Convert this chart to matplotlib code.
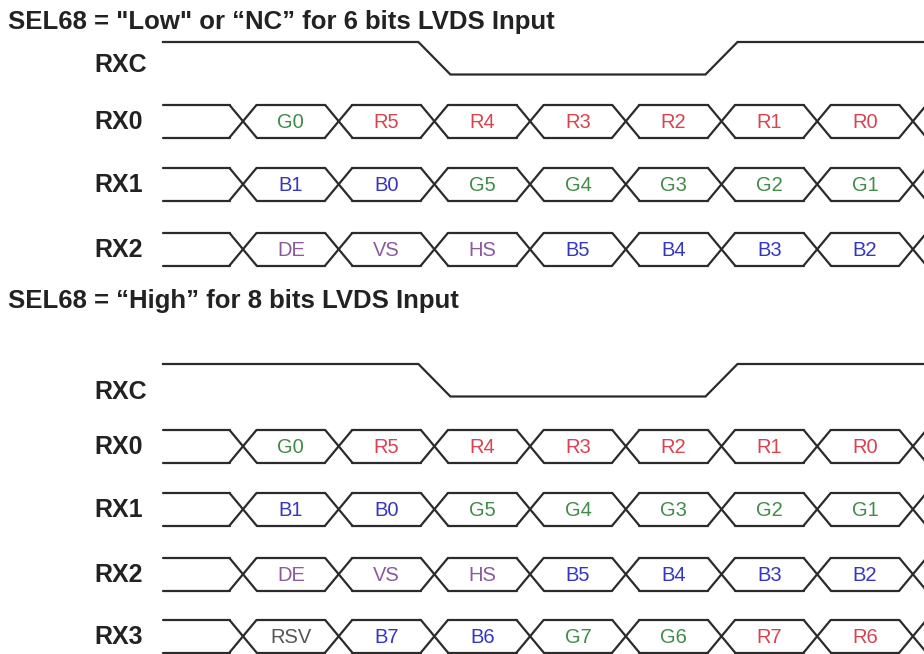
import matplotlib
matplotlib.use("Agg")
import matplotlib.pyplot as plt
from matplotlib.collections import LineCollection

# ---- data -------------------------------------------------------------
titles = ['SEL68 = "Low" or \u201cNC\u201d for 6 bits LVDS Input',
          'SEL68 = \u201cHigh\u201d for 8 bits LVDS Input']

# clock level per segment: idle, 7 bit slots, after last edge
clock_levels = [1, 1, 1, 0, 0, 0, 1, 1, 1]

rx0_bits = ["G0", "R5", "R4", "R3", "R2", "R1", "R0"]
rx1_bits = ["B1", "B0", "G5", "G4", "G3", "G2", "G1"]
rx2_bits = ["DE", "VS", "HS", "B5", "B4", "B3", "B2"]
rx3_bits = ["RSV", "B7", "B6", "G7", "G6", "R7", "R6"]

section_6bit = [("RX0", rx0_bits), ("RX1", rx1_bits), ("RX2", rx2_bits)]
section_8bit = [("RX0", rx0_bits), ("RX1", rx1_bits), ("RX2", rx2_bits),
                ("RX3", rx3_bits)]

bit_colors = {"R": "#d8434f", "G": "#3f8c48", "B": "#3535c4",
              "DE": "#8c5a9c", "VS": "#8c5a9c", "HS": "#8c5a9c",
              "RSV": "#555555"}

# ---- layout (pixel space) --------------------------------------------
W, H = 924, 654
X_START = 163
CROSS0 = 243.0
PERIOD = 95.7
N_CROSS = 8
HW = 13.5        # half width of a data crossing
CHW = 16.0       # half width of a clock edge
ROW_H = 32.5
X_END = W + 40
LINE_C = "#2b2b2b"
LW = 1.6

crosses = [CROSS0 + PERIOD * k for k in range(N_CROSS)]

fig = plt.figure(figsize=(W / 100, H / 100), dpi=100)
ax = fig.add_axes([0, 0, 1, 1])
ax.set_xlim(0, W)
ax.set_ylim(H, 0)
ax.axis("off")


def bit_color(name):
    if name in bit_colors:
        return bit_colors[name]
    return bit_colors[name[0]]


def draw_label(name, y):
    ax.text(94, y, name, fontsize=18, fontweight="bold",
            family="Liberation Sans", color="#222222",
            ha="left", va="center")


def draw_clock(top):
    bot = top + ROW_H
    lvl_y = {1: top, 0: bot}
    xs = [X_START]
    ys = [lvl_y[clock_levels[0]]]
    for k, c in enumerate(crosses):
        prev, new = clock_levels[k], clock_levels[k + 1]
        if prev != new:
            xs += [c - CHW, c + CHW]
            ys += [lvl_y[prev], lvl_y[new]]
    xs.append(X_END)
    ys.append(lvl_y[clock_levels[-1]])
    ax.plot(xs, ys, color=LINE_C, lw=LW, solid_joinstyle="miter")


def draw_data(top, bits):
    bot = top + ROW_H
    segs = [[(X_START, top), (crosses[0] - HW, top)],
            [(X_START, bot), (crosses[0] - HW, bot)]]
    for k, c in enumerate(crosses):
        segs.append([(c - HW, top), (c + HW, bot)])
        segs.append([(c - HW, bot), (c + HW, top)])
        x1 = crosses[k + 1] - HW if k + 1 < len(crosses) else X_END
        segs.append([(c + HW, top), (x1, top)])
        segs.append([(c + HW, bot), (x1, bot)])
    ax.add_collection(LineCollection(segs, colors=LINE_C, linewidths=LW,
                                     capstyle="round"))
    for k, b in enumerate(bits):
        xc = (crosses[k] + crosses[k + 1]) / 2
        ax.text(xc, (top + bot) / 2 + 1, b, fontsize=14.5,
                family="Liberation Sans", color=bit_color(b),
                ha="center", va="center")


def draw_section(title, title_y, clk_top, clk_label_y, rows, row_tops):
    ax.text(8, title_y, title, fontsize=18.5, fontweight="bold",
            family="Liberation Sans", color="#222222",
            ha="left", va="center")
    draw_label("RXC", clk_label_y)
    draw_clock(clk_top)
    for (name, bits), top in zip(rows, row_tops):
        draw_label(name, top + ROW_H / 2 + 0.5)
        draw_data(top, bits)


draw_section(titles[0], 22, 42, 65, section_6bit, [105, 168, 233])
draw_section(titles[1], 301, 364, 392, section_8bit, [430, 493, 558, 620])

fig.savefig("out.png", dpi=100, facecolor="white")
